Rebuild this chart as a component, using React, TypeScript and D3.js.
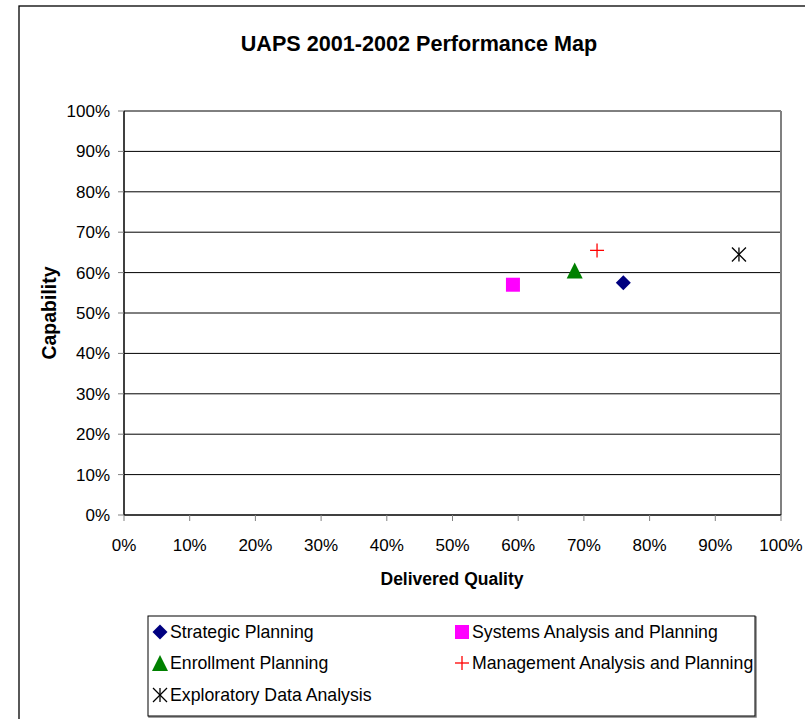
import React from "react";
import * as d3 from "d3";

const seriesNames = [
  "Strategic Planning",
  "Systems Analysis and Planning",
  "Enrollment Planning",
  "Management Analysis and Planning",
  "Exploratory Data Analysis",
];
const qualityValues = [0.76, 0.592, 0.686, 0.72, 0.936];
const capabilityValues = [0.575, 0.57, 0.605, 0.655, 0.645];
const markerKinds = ["diamond", "square", "triangle", "plus", "star"];
const markerColors = ["#000080", "#FF00FF", "#008000", "#FF0000", "#000000"];
const tickValues = [0, 0.1, 0.2, 0.3, 0.4, 0.5, 0.6, 0.7, 0.8, 0.9, 1.0];

const W = 805;
const H = 719;
const L = 124, R = 781, T = 111, B = 515;
const FONT = "'Liberation Sans', Arial, sans-serif";

function Marker({ kind, color, x, y }: { kind: string; color: string; x: number; y: number }) {
  if (kind === "diamond") {
    const s = 7.5;
    return <path d={`M${x},${y - s}L${x + s},${y}L${x},${y + s}L${x - s},${y}Z`} fill={color} />;
  }
  if (kind === "square") {
    const s = 7;
    return <rect x={x - s} y={y - s} width={2 * s} height={2 * s} fill={color} />;
  }
  if (kind === "triangle") {
    const s = 8;
    return <path d={`M${x},${y - s}L${x + s},${y + s}L${x - s},${y + s}Z`} fill={color} />;
  }
  if (kind === "plus") {
    const s = 7;
    return (
      <g stroke={color} strokeWidth={1.3}>
        <line x1={x - s} y1={y} x2={x + s} y2={y} />
        <line x1={x} y1={y - s} x2={x} y2={y + s} />
      </g>
    );
  }
  const s = 7;
  return (
    <g stroke={color} strokeWidth={1.3}>
      <line x1={x - s} y1={y - s} x2={x + s} y2={y + s} />
      <line x1={x - s} y1={y + s} x2={x + s} y2={y - s} />
      <line x1={x} y1={y - s} x2={x} y2={y + s} />
    </g>
  );
}

export default function App() {
  const xs = d3.scaleLinear().domain([0, 1]).range([L, R]);
  const ys = d3.scaleLinear().domain([0, 1]).range([B, T]);
  const fmt = d3.format(".0%");

  const legendItems = [
    { i: 0, x: 160, y: 632 },
    { i: 1, x: 462, y: 632 },
    { i: 2, x: 160, y: 663 },
    { i: 3, x: 462, y: 663 },
    { i: 4, x: 160, y: 695 },
  ];

  return (
    <svg
      width={W}
      height={H}
      style={{ position: "absolute", left: 0, top: 0, background: "#fff" }}
      fontFamily={FONT}
    >
      <rect x={19} y={6} width={800} height={730} fill="#fff" stroke="#000" strokeWidth={1.3} />
      <text x={419} y={51} textAnchor="middle" fontSize={21.6} fontWeight="bold">
        UAPS 2001-2002 Performance Map
      </text>

      {/* gridlines */}
      {tickValues.slice(1).map((t) => (
        <line key={"g" + t} x1={L} x2={R} y1={ys(t)} y2={ys(t)} stroke="#000" strokeWidth={1} />
      ))}
      {/* plot border right */}
      <line x1={R} x2={R} y1={T} y2={B} stroke="#808080" strokeWidth={2} />
      {/* axes */}
      <line x1={L} x2={L} y1={T} y2={B} stroke="#000" strokeWidth={1.5} />
      <line x1={L} x2={R} y1={B} y2={B} stroke="#000" strokeWidth={1.5} />
      {tickValues.map((t) => (
        <g key={"y" + t}>
          <line x1={L - 6} x2={L} y1={ys(t)} y2={ys(t)} stroke="#808080" strokeWidth={1} />
          <text x={110} y={ys(t) + 6} textAnchor="end" fontSize={17}>
            {fmt(t)}
          </text>
        </g>
      ))}
      {tickValues.map((t) => (
        <g key={"x" + t}>
          <line x1={xs(t)} x2={xs(t)} y1={B} y2={B + 6} stroke="#808080" strokeWidth={1} />
          <text x={xs(t)} y={551} textAnchor="middle" fontSize={17}>
            {fmt(t)}
          </text>
        </g>
      ))}
      <text x={452} y={585} textAnchor="middle" fontSize={17.5} fontWeight="bold">
        Delivered Quality
      </text>
      <text
        transform={`translate(56,${(T + B) / 2}) rotate(-90)`}
        textAnchor="middle"
        fontSize={19.5}
        fontWeight="bold"
      >
        Capability
      </text>

      {seriesNames.map((n, i) => (
        <Marker
          key={n}
          kind={markerKinds[i]}
          color={markerColors[i]}
          x={xs(qualityValues[i])}
          y={ys(capabilityValues[i])}
        />
      ))}

      {/* legend */}
      <rect x={149} y={617} width={607} height={100} fill="none" stroke="#808080" strokeWidth={1.5} />
      <rect x={148} y={616} width={607} height={100} fill="#fff" stroke="#000" strokeWidth={1} />
      {legendItems.map(({ i, x, y }) => (
        <g key={"l" + i}>
          <Marker kind={markerKinds[i]} color={markerColors[i]} x={x} y={y} />
          <text x={x + 10} y={y + 6} fontSize={17.7}>
            {seriesNames[i]}
          </text>
        </g>
      ))}
    </svg>
  );
}
